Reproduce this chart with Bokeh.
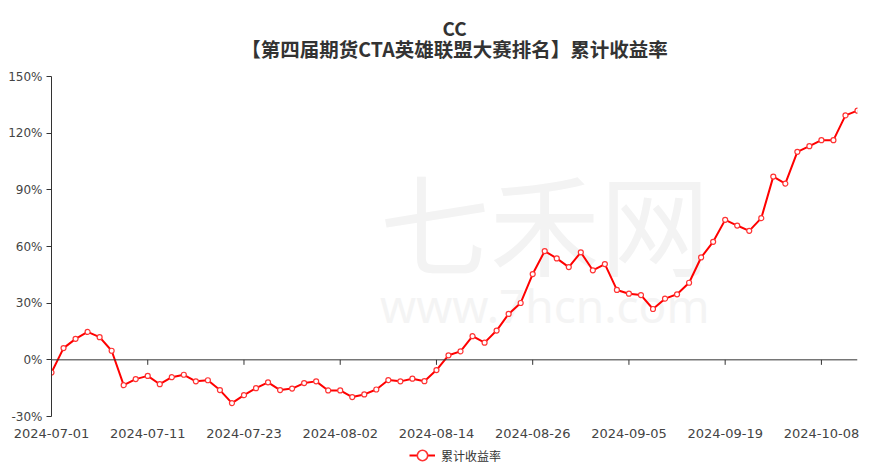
import math
from bokeh.plotting import figure
from bokeh.layouts import column
from bokeh.models import (Range1d, FixedTicker, LinearAxis, Legend, LegendItem,
                          ColumnDataSource, Label, Span)
from bokeh.embed import file_html
from bokeh.resources import INLINE

dates = [
    "2024-07-01", "2024-07-02", "2024-07-03", "2024-07-04", "2024-07-05",
    "2024-07-08", "2024-07-09", "2024-07-10", "2024-07-11", "2024-07-12",
    "2024-07-15", "2024-07-16", "2024-07-17", "2024-07-18", "2024-07-19",
    "2024-07-22", "2024-07-23", "2024-07-24", "2024-07-25", "2024-07-26",
    "2024-07-29", "2024-07-30", "2024-07-31",
    "2024-08-01", "2024-08-02", "2024-08-05", "2024-08-06", "2024-08-07",
    "2024-08-08", "2024-08-09", "2024-08-12", "2024-08-13", "2024-08-14",
    "2024-08-15", "2024-08-16", "2024-08-19", "2024-08-20", "2024-08-21",
    "2024-08-22", "2024-08-23", "2024-08-26", "2024-08-27", "2024-08-28",
    "2024-08-29", "2024-08-30",
    "2024-09-02", "2024-09-03", "2024-09-04", "2024-09-05", "2024-09-06",
    "2024-09-09", "2024-09-10", "2024-09-11", "2024-09-12", "2024-09-13",
    "2024-09-18", "2024-09-19", "2024-09-20", "2024-09-23", "2024-09-24",
    "2024-09-25", "2024-09-26", "2024-09-27", "2024-09-30",
    "2024-10-08", "2024-10-09", "2024-10-10", "2024-10-11",
]

cum_return = [
    -6.7, 6.2, 11.1, 14.8, 12.0, 4.8, -13.4, -10.2, -8.5, -12.9,
    -9.2, -7.9, -11.4, -10.8, -16.0, -22.9, -18.7, -15.0, -11.9, -16.0,
    -15.2, -12.3, -11.4, -16.2, -16.2, -19.7, -18.3, -15.7, -10.7, -11.4,
    -10.0, -11.3, -5.4, 2.4, 4.5, 12.5, 9.1, 15.5, 24.3, 30.1,
    45.4, 57.6, 53.7, 49.1, 56.9, 47.4, 50.7, 37.0, 35.0, 34.3,
    26.9, 32.4, 34.7, 40.8, 54.2, 62.5, 74.1, 71.1, 68.3, 75.0,
    97.0, 93.3, 110.1, 113.1, 116.3, 116.3, 129.4, 131.9,
]

y_ticks = [-30, 0, 30, 60, 90, 120, 150]
x_label_step = 8
series_name = "累计收益率"
title_top = "CC"
title_main = "【第四届期货CTA英雄联盟大赛排名】累计收益率"

LINE_COLOR = "#ff0000"
MARK_COLOR = "#ff3333"
AXIS_COLOR = "#333333"
LABEL_COLOR = "#444444"
TITLE_COLOR = "#333333"

x_idx = list(range(len(dates)))
x_ticks = x_idx[::x_label_step]
x_mid = (x_idx[0] + x_idx[-1]) / 2

src = ColumnDataSource(dict(x=x_idx, y=cum_return, d=dates))
tick_src = ColumnDataSource(dict(x=x_ticks, y=[0] * len(x_ticks)))

# ---------------- title strip ----------------
pt = figure(width=873, height=66, output_backend="svg", toolbar_location=None,
            x_axis_type=None, y_axis_type=None, min_border=0,
            x_range=Range1d(x_idx[0], x_idx[-1]), y_range=Range1d(66, 0))
pt.outline_line_color = None
pt.xgrid.visible = False
pt.ygrid.visible = False
pt.add_layout(Label(x=x_mid, y=27, text=title_top, text_font="Noto Sans CJK SC",
                    text_font_size="19px", text_font_style="bold", text_color=TITLE_COLOR,
                    text_align="center", text_baseline="middle"))
pt.add_layout(Label(x=x_mid, y=48, text=title_main, text_font="Noto Sans CJK SC",
                    text_font_size="19.5px", text_font_style="bold", text_color=TITLE_COLOR,
                    text_align="center", text_baseline="middle"))

# ---------------- main chart ----------------
p = figure(width=873, height=374, output_backend="svg", toolbar_location=None,
           x_range=Range1d(x_idx[0], x_idx[-1]), y_range=Range1d(y_ticks[0], y_ticks[-1]),
           x_axis_type=None, y_axis_type=None,
           min_border_left=51, min_border_right=16, min_border_top=10, min_border_bottom=23)
p.outline_line_color = None
p.background_fill_color = "white"

# watermark
p.add_layout(Label(x=41, y=74, text="七禾网", text_font="Noto Sans CJK SC",
                   text_font_size="110px", text_color="#f3f3f3", text_align="center",
                   text_baseline="middle", level="underlay"))
p.add_layout(Label(x=41, y=29, text="www.7hcn.com", text_font="Noto Sans",
                   text_font_size="46px", text_color="#f4f4f4", text_align="center",
                   text_baseline="middle", level="underlay"))

# y axis
yaxis = LinearAxis(ticker=FixedTicker(ticks=y_ticks),
                   major_label_overrides={v: f"{v}%" for v in y_ticks})
yaxis.axis_line_color = AXIS_COLOR
yaxis.major_tick_line_color = AXIS_COLOR
yaxis.major_tick_out = 5
yaxis.major_tick_in = 0
yaxis.minor_tick_line_color = None
yaxis.major_label_standoff = 4
yaxis.major_label_text_font = "DejaVu Sans"
yaxis.major_label_text_font_size = "12px"
yaxis.major_label_text_color = LABEL_COLOR
p.add_layout(yaxis, "left")

# x labels axis (bottom)
xaxis = LinearAxis(ticker=FixedTicker(ticks=x_ticks),
                   major_label_overrides={i: dates[i] for i in x_ticks})
xaxis.axis_line_color = None
xaxis.major_tick_line_color = None
xaxis.minor_tick_line_color = None
xaxis.major_label_standoff = 6
xaxis.major_label_text_font = "DejaVu Sans"
xaxis.major_label_text_font_size = "13px"
xaxis.major_label_text_color = LABEL_COLOR
p.add_layout(xaxis, "below")

# grid
p.ygrid.ticker = FixedTicker(ticks=y_ticks)
p.ygrid.grid_line_color = "#cccccc"
p.ygrid.grid_line_dash = "4 3"
p.xgrid.visible = False

# zero line and its ticks
p.add_layout(Span(location=0, dimension="width", line_color=AXIS_COLOR, line_width=1))
p.ray("x", "y", source=tick_src, length=5, length_units="screen", angle=-math.pi / 2,
      line_color=AXIS_COLOR, line_width=1)

p.line("x", "y", source=src, line_color=LINE_COLOR, line_width=2)
p.scatter("x", "y", source=src, size=5, fill_color="white",
          line_color=MARK_COLOR, line_width=1.2)

# ---------------- legend strip ----------------
# the strip's ranges lie far outside the data, so only the legend shows
pl = figure(width=873, height=30, output_backend="svg", toolbar_location=None,
            x_axis_type=None, y_axis_type=None, min_border=0,
            x_range=Range1d(x_idx[0], x_idx[-1]), y_range=Range1d(1000, 1001))
pl.outline_line_color = None
pl.xgrid.visible = False
pl.ygrid.visible = False
lr = pl.line("x", "y", source=src, line_color=LINE_COLOR, line_width=2)
sr = pl.scatter("x", "y", source=src, fill_color="white",
                line_color=MARK_COLOR, line_width=1.6)
legend = Legend(items=[LegendItem(label=series_name, renderers=[lr, sr])],
                location=(358, 2), orientation="horizontal",
                glyph_width=26, glyph_height=26, label_text_font="Noto Sans CJK SC",
                label_text_font_size="12px", label_text_color="#333333",
                border_line_color=None, background_fill_alpha=0,
                padding=0, margin=0, label_standoff=6)
pl.add_layout(legend, "center")

layout = column(pt, p, pl, spacing=0)
open("out.html", "w").write(file_html(layout, INLINE))
